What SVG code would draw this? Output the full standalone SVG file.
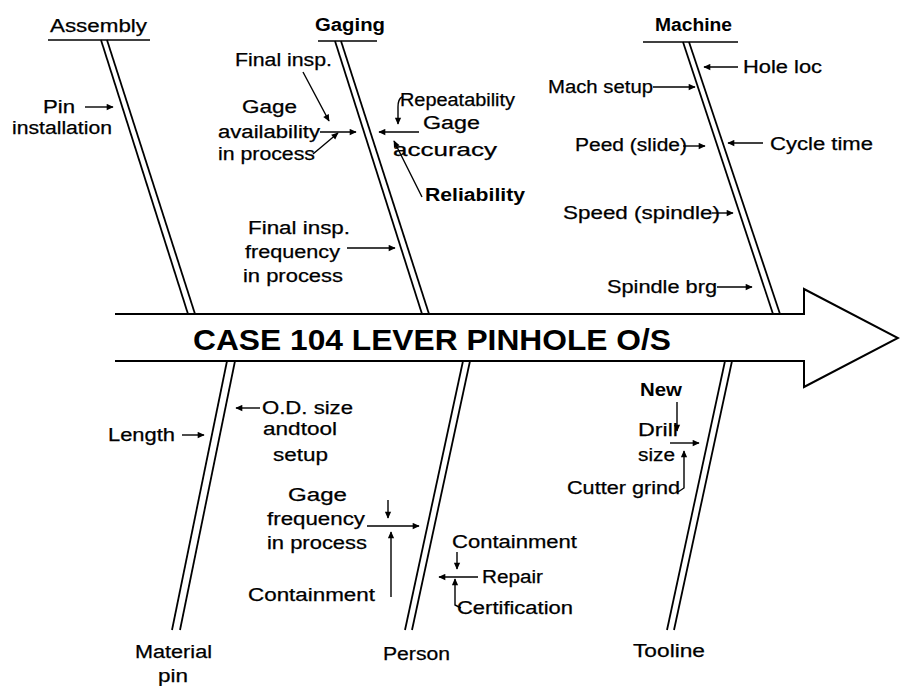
<svg xmlns="http://www.w3.org/2000/svg" width="900" height="686" viewBox="0 0 900 686">
<defs>
<style>
text{font-family:"Liberation Sans",Arial,sans-serif;font-size:18px;fill:#000;stroke:#000;stroke-width:0.25}
.b{font-weight:bold;stroke-width:0}
.title{font-size:30px;font-weight:bold;stroke-width:0}
.bone{stroke:#000;stroke-width:1.8;fill:none}
.ul{stroke:#000;stroke-width:1.6}
.spine{stroke:#000;stroke-width:2;fill:none}
.ar{stroke:#000;stroke-width:1.4;fill:none;marker-end:url(#ah)}
</style>
<marker id="ah" viewBox="0 0 10 10" refX="9" refY="5" markerWidth="8" markerHeight="7" markerUnits="userSpaceOnUse" orient="auto"><path d="M0,0.5 L10,5 L0,9.5 z" fill="#000"/></marker>
</defs>
<rect width="900" height="686" fill="#fff"/>

<g id="spine">
<path class="spine" d="M115,314 H804 V289 L898,338 L804,387 V361 H115"/>
<text class="title" x="193" y="350" textLength="478" lengthAdjust="spacingAndGlyphs">CASE 104 LEVER PINHOLE O/S</text>
</g>

<g id="bone-assembly">
<line class="ul" x1="48" y1="40" x2="150" y2="40"/>
<line class="bone" x1="101" y1="40" x2="188" y2="314"/>
<line class="bone" x1="107" y1="40" x2="195" y2="314"/>
<text x="50" y="32" textLength="97" lengthAdjust="spacingAndGlyphs">Assembly</text>
</g>
<g id="bone-gaging">
<line class="ul" x1="318" y1="41" x2="377" y2="41"/>
<line class="bone" x1="335" y1="41" x2="422" y2="314"/>
<line class="bone" x1="341" y1="41" x2="429" y2="314"/>
<text class="b" x="315" y="31" textLength="70" lengthAdjust="spacingAndGlyphs">Gaging</text>
</g>
<g id="bone-machine">
<line class="ul" x1="643" y1="42" x2="738" y2="42"/>
<line class="bone" x1="683" y1="42" x2="773" y2="314"/>
<line class="bone" x1="689" y1="42" x2="780" y2="314"/>
<text class="b" x="655" y="31" textLength="77" lengthAdjust="spacingAndGlyphs">Machine</text>
</g>
<g id="bone-material">
<line class="bone" x1="227" y1="361" x2="172" y2="630"/>
<line class="bone" x1="235" y1="361" x2="180" y2="630"/>
<text x="135" y="658" textLength="77" lengthAdjust="spacingAndGlyphs">Material</text>
<text x="158" y="682" textLength="30" lengthAdjust="spacingAndGlyphs">pin</text>
</g>
<g id="bone-person">
<line class="bone" x1="463" y1="361" x2="405" y2="630"/>
<line class="bone" x1="470" y1="361" x2="412" y2="630"/>
<text x="383" y="660" textLength="67" lengthAdjust="spacingAndGlyphs">Person</text>
</g>
<g id="bone-tooline">
<line class="bone" x1="725" y1="361" x2="667" y2="630"/>
<line class="bone" x1="732" y1="361" x2="674" y2="630"/>
<text x="633" y="657" textLength="72" lengthAdjust="spacingAndGlyphs">Tooline</text>
</g>

<g id="cause-pin"><text x="43" y="113" textLength="32" lengthAdjust="spacingAndGlyphs">Pin</text><text x="12" y="134" textLength="100" lengthAdjust="spacingAndGlyphs">installation</text></g>
<g id="cause-final-insp"><text x="235" y="66" textLength="97" lengthAdjust="spacingAndGlyphs">Final insp.</text></g>
<g id="cause-gage-availability"><text x="242" y="113" textLength="55" lengthAdjust="spacingAndGlyphs">Gage</text><text x="218" y="138" textLength="102" lengthAdjust="spacingAndGlyphs">availability</text><text x="218" y="160" textLength="97" lengthAdjust="spacingAndGlyphs">in process</text></g>
<g id="cause-repeatability"><text x="400" y="106" textLength="115" lengthAdjust="spacingAndGlyphs">Repeatability</text></g>
<g id="cause-gage-accuracy"><text x="423" y="129" textLength="57" lengthAdjust="spacingAndGlyphs">Gage</text><text x="393" y="156" textLength="104" lengthAdjust="spacingAndGlyphs">accuracy</text></g>
<g id="cause-reliability"><text class="b" x="425" y="201" textLength="100" lengthAdjust="spacingAndGlyphs">Reliability</text></g>
<g id="cause-final-freq"><text x="248" y="234" textLength="102" lengthAdjust="spacingAndGlyphs">Final insp.</text><text x="245" y="258" textLength="95" lengthAdjust="spacingAndGlyphs">frequency</text><text x="243" y="282" textLength="100" lengthAdjust="spacingAndGlyphs">in process</text></g>
<g id="cause-hole-loc"><text x="743" y="73" textLength="79" lengthAdjust="spacingAndGlyphs">Hole loc</text></g>
<g id="cause-mach-setup"><text x="548" y="93" textLength="105" lengthAdjust="spacingAndGlyphs">Mach setup</text></g>
<g id="cause-peed"><text x="575" y="151" textLength="112" lengthAdjust="spacingAndGlyphs">Peed (slide)</text></g>
<g id="cause-cycle-time"><text x="770" y="150" textLength="103" lengthAdjust="spacingAndGlyphs">Cycle time</text></g>
<g id="cause-speed"><text x="563" y="219" textLength="157" lengthAdjust="spacingAndGlyphs">Speed (spindle)</text></g>
<g id="cause-spindle-brg"><text x="607" y="293" textLength="110" lengthAdjust="spacingAndGlyphs">Spindle brg</text></g>
<g id="cause-od-size"><text x="262" y="414" textLength="91" lengthAdjust="spacingAndGlyphs">O.D. size</text><text x="263" y="435" textLength="74" lengthAdjust="spacingAndGlyphs">andtool</text><text x="273" y="461" textLength="55" lengthAdjust="spacingAndGlyphs">setup</text></g>
<g id="cause-length"><text x="108" y="441" textLength="67" lengthAdjust="spacingAndGlyphs">Length</text></g>
<g id="cause-gage-frequency"><text x="288" y="501" textLength="59" lengthAdjust="spacingAndGlyphs">Gage</text><text x="267" y="525" textLength="98" lengthAdjust="spacingAndGlyphs">frequency</text><text x="267" y="549" textLength="100" lengthAdjust="spacingAndGlyphs">in process</text></g>
<g id="cause-containment-left"><text x="248" y="601" textLength="127" lengthAdjust="spacingAndGlyphs">Containment</text></g>
<g id="cause-containment-right"><text x="452" y="548" textLength="125" lengthAdjust="spacingAndGlyphs">Containment</text></g>
<g id="cause-repair"><text x="482" y="583" textLength="61" lengthAdjust="spacingAndGlyphs">Repair</text></g>
<g id="cause-certification"><text x="457" y="614" textLength="116" lengthAdjust="spacingAndGlyphs">Certification</text></g>
<g id="cause-new"><text class="b" x="640" y="396" textLength="42" lengthAdjust="spacingAndGlyphs">New</text></g>
<g id="cause-drill-size"><text x="638" y="436" textLength="40" lengthAdjust="spacingAndGlyphs">Drill</text><text x="638" y="461" textLength="37" lengthAdjust="spacingAndGlyphs">size</text></g>
<g id="cause-cutter-grind"><text x="567" y="494" textLength="113" lengthAdjust="spacingAndGlyphs">Cutter grind</text></g>

<g id="connectors">
<line class="ar" x1="85" y1="107" x2="113" y2="107"/>
<line class="ar" x1="303" y1="72" x2="329" y2="121"/>
<line class="ar" x1="320" y1="132" x2="356" y2="132"/>
<line class="ar" x1="313" y1="154" x2="338" y2="133"/>
<path class="ar" d="M402,97 Q398,99 398,107 L398,124"/>
<line class="ar" x1="419" y1="132" x2="379" y2="132"/>
<line class="ar" x1="422" y1="197" x2="394" y2="141"/>
<line class="ar" x1="347" y1="248" x2="395" y2="248"/>
<line class="ar" x1="738" y1="67" x2="704" y2="67"/>
<line class="ar" x1="653" y1="87" x2="695" y2="87"/>
<line class="ar" x1="683" y1="146" x2="705" y2="146"/>
<line class="ar" x1="763" y1="143" x2="728" y2="143"/>
<line class="ar" x1="712" y1="213" x2="733" y2="213"/>
<line class="ar" x1="717" y1="287" x2="752" y2="287"/>
<line class="ar" x1="260" y1="408" x2="236" y2="408"/>
<line class="ar" x1="182" y1="435" x2="204" y2="435"/>
<line class="ar" x1="367" y1="526" x2="419" y2="526"/>
<line class="ar" x1="388" y1="500" x2="388" y2="518"/>
<line class="ar" x1="391" y1="597" x2="391" y2="532"/>
<line class="ar" x1="457" y1="552" x2="457" y2="569"/>
<line class="ar" x1="478" y1="577" x2="439" y2="577"/>
<path class="ar" d="M461,608 L455,605 L455,579"/>
<line class="ar" x1="677" y1="402" x2="677" y2="431"/>
<line class="ar" x1="670" y1="443" x2="699" y2="443"/>
<path class="ar" d="M678,492 L684,488 L684,451"/>
</g>
</svg>
